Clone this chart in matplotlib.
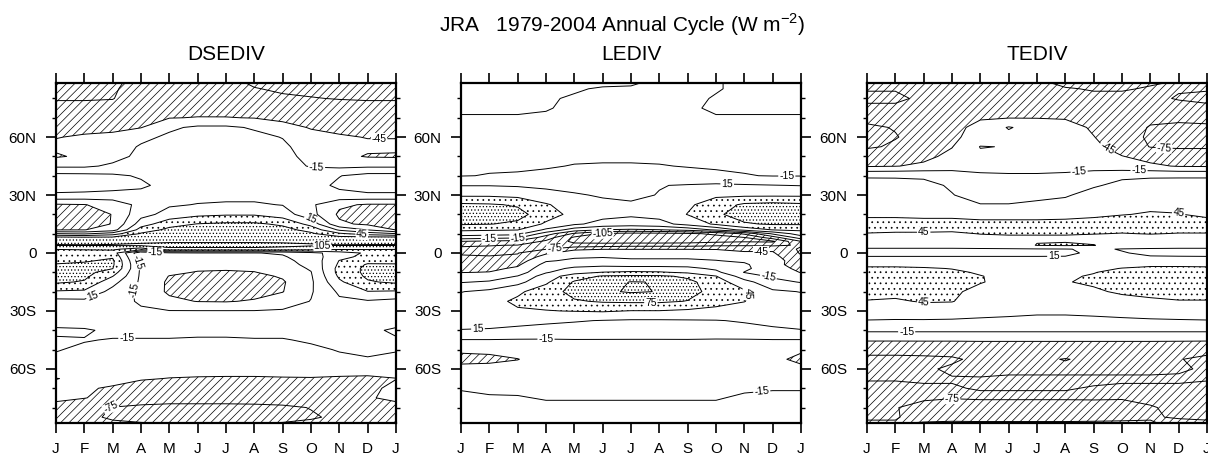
import numpy as np
import matplotlib.pyplot as plt

plt.rcParams['font.family'] = ['Liberation Sans', 'DejaVu Sans']
plt.rcParams['mathtext.fontset'] = 'custom'
plt.rcParams['mathtext.rm'] = 'Liberation Sans'
plt.rcParams['hatch.linewidth'] = 0.5
plt.rcParams['hatch.color'] = 'black'
plt.rcParams['contour.negative_linestyle'] = 'solid'

month_labels = ['J', 'F', 'M', 'A', 'M', 'J', 'J', 'A', 'S', 'O', 'N', 'D', 'J']
lat = [88, 85, 80, 75, 70, 65, 60, 55, 50, 45, 40, 35, 30, 25, 20, 15, 12, 10, 8, 6, 4, 2, 0,
       -2, -4, -6, -8, -10, -12, -15, -20, -25, -30, -35, -40, -45, -50, -55, -60, -65, -70,
       -75, -80, -85, -88]

# monthly values (J..D) for each latitude row, W m-2
dsediv = [
    [-82, -82, -80, -66, -62, -62, -68, -78, -80, -82, -82, -82],
    [-80, -80, -78, -64, -60, -60, -64, -74, -78, -80, -80, -80],
    [-77, -77, -76, -60, -58, -58, -60, -66, -72, -74, -76, -77],
    [-68, -68, -66, -56, -54, -54, -55, -58, -62, -64, -66, -68],
    [-62, -60, -58, -50, -46, -44, -44, -46, -52, -56, -58, -60],
    [-55, -52, -50, -46, -20, -10, -10, -18, -35, -47, -52, -55],
    [-46, -42, -40, -22, -10, -5, -5, -8, -16, -36, -42, -46],
    [-40, -36, -30, -12, -6, -3, -3, -5, -10, -28, -36, -40],
    [-48, -40, -25, -8, -4, -2, -2, -3, -6, -24, -38, -47],
    [-20, -20, -10, -5, -3, -3, -3, -3, -5, -17, -22, -20],
    [25, 24, 20, 12, 2, 0, 0, 0, 0, 2, 14, 25],
    [30, 30, 26, 20, 5, 3, 3, 3, 3, 5, 20, 30],
    [10, 8, 6, 6, 8, 8, 8, 8, 8, 6, 8, 10],
    [-48, -46, -35, -5, 12, 16, 18, 18, 14, -10, -40, -48],
    [-62, -60, -44, 5, 25, 38, 42, 42, 30, -5, -50, -60],
    [-55, -55, -44, 30, 65, 76, 80, 80, 70, 35, -40, -50],
    [-46, -46, -30, 60, 82, 88, 90, 90, 85, 65, 10, -16],
    [16, 10, 30, 78, 90, 92, 94, 94, 90, 80, 50, 30],
    [85, 82, 82, 90, 95, 96, 96, 96, 95, 92, 85, 85],
    [100, 98, 98, 100, 102, 102, 102, 102, 102, 100, 98, 100],
    [106, 106, 107, 110, 112, 112, 112, 112, 110, 108, 106, 106],
    [76, 78, 80, 60, 100, 100, 100, 100, 98, 90, 80, 78],
    [62, 62, 60, -40, -20, -16, -16, -16, -12, 5, 30, 50],
    [60, 64, 72, -35, -22, -20, -22, -22, -18, 0, 35, 55],
    [62, 72, 80, -28, -25, -26, -28, -26, -22, -5, 46, 65],
    [78, 80, 80, -22, -28, -32, -34, -32, -25, -8, 50, 78],
    [88, 85, 76, -20, -32, -40, -42, -40, -30, -12, 55, 82],
    [90, 85, 60, -20, -38, -47, -48, -46, -35, -16, 55, 82],
    [88, 82, 46, -20, -46, -52, -54, -52, -42, -18, 50, 80],
    [80, 72, 25, -20, -50, -58, -60, -56, -48, -20, 40, 72],
    [42, 40, 5, -22, -50, -60, -62, -56, -46, -18, 20, 44],
    [6, 8, -5, -18, -38, -46, -47, -42, -30, -14, 10, 12],
    [0, 2, -5, -12, -14, -14, -14, -14, -12, -8, 5, 5],
    [-2, -2, -2, -5, -6, -6, -6, -6, -5, -4, -2, -2],
    [-20, -18, -10, -10, -10, -10, -10, -10, -10, -8, -6, -8],
    [-12, -14, -16, -16, -16, -17, -17, -16, -16, -13, -12, -10],
    [-14, -18, -20, -20, -21, -22, -22, -21, -20, -18, -14, -12],
    [-18, -20, -22, -24, -25, -26, -26, -26, -25, -22, -18, -16],
    [-22, -24, -26, -28, -32, -36, -38, -38, -34, -30, -28, -28],
    [-46, -38, -36, -42, -46, -47, -47, -47, -47, -47, -50, -52],
    [-36, -42, -48, -60, -64, -66, -66, -64, -62, -58, -56, -54],
    [-38, -44, -54, -62, -64, -64, -64, -62, -60, -56, -52, -48],
    [-56, -66, -76, -80, -82, -82, -82, -82, -80, -74, -66, -58],
    [-60, -70, -78, -84, -86, -88, -88, -86, -84, -78, -70, -62],
    [-58, -66, -72, -74, -76, -76, -76, -76, -74, -70, -66, -60],
]

lediv = [
    [-12, -12, -12, -12, -13, -13, -14, -17, -17, -16, -12, -12],
    [-12, -12, -12, -13, -14, -16, -16, -18, -18, -16, -12, -12],
    [-13, -13, -13, -14, -16, -17, -18, -19, -18, -14, -13, -13],
    [-13, -13, -13, -14, -18, -19, -19, -19, -17, -13, -13, -13],
    [-16, -16, -16, -17, -19, -20, -20, -20, -17, -16, -16, -16],
    [-19, -19, -19, -20, -21, -21, -21, -21, -20, -19, -19, -19],
    [-22, -22, -22, -22, -22, -22, -22, -22, -22, -22, -22, -22],
    [-22, -22, -22, -22, -22, -22, -22, -22, -22, -22, -22, -22],
    [-20, -20, -20, -20, -19, -19, -19, -19, -19, -20, -20, -20],
    [-18, -18, -18, -17, -14, -13, -13, -14, -16, -18, -18, -18],
    [-16, -14, -13, -10, -8, -6, -6, -6, -8, -10, -14, -16],
    [14, 14, 12, 9, 5, 3, 4, 14, 17, 20, 18, 16],
    [40, 40, 36, 25, 18, 12, 10, 16, 28, 40, 40, 40],
    [80, 78, 72, 48, 30, 22, 18, 22, 40, 60, 80, 84],
    [92, 90, 84, 60, 35, 25, 20, 25, 46, 70, 88, 92],
    [78, 76, 70, 40, 20, 5, 0, 5, 25, 50, 72, 78],
    [50, 48, 46, 10, -30, -46, -50, -46, -35, -10, 25, 46],
    [30, 28, 25, -30, -80, -110, -115, -115, -110, -100, -70, -10],
    [0, -5, -10, -60, -110, -120, -125, -125, -120, -114, -106, -60],
    [-46, -50, -55, -80, -112, -118, -120, -120, -118, -112, -108, -110],
    [-72, -74, -76, -80, -95, -90, -85, -85, -85, -80, -78, -80],
    [-80, -80, -80, -76, -50, -46, -46, -46, -46, -46, -50, -50],
    [-78, -78, -76, -50, -30, -25, -25, -25, -25, -35, -42, -42],
    [-72, -74, -72, -32, -18, -16, -18, -18, -18, -22, -30, -35],
    [-65, -68, -60, -18, -10, -10, -12, -12, -12, -14, -20, -30],
    [-55, -60, -50, -5, 5, 8, 5, 5, 5, -2, -10, -38],
    [-50, -52, -40, 5, 20, 25, 25, 25, 22, 10, -8, -36],
    [-46, -44, -30, 12, 35, 46, 50, 48, 40, 22, -16, -30],
    [-32, -30, -14, 30, 60, 78, 80, 80, 70, 46, 0, -20],
    [-17, -12, 5, 40, 78, 95, 106, 104, 82, 60, 25, -5],
    [14, 22, 40, 60, 85, 100, 108, 104, 85, 65, 50, 20],
    [25, 36, 50, 55, 72, 78, 80, 80, 74, 58, 46, 22],
    [28, 32, 42, 44, 46, 48, 44, 44, 40, 35, 30, 26],
    [25, 24, 22, 20, 17, 14, 12, 12, 13, 14, 17, 20],
    [14, 13, 10, 6, 4, 2, 0, 0, 2, 4, 8, 12],
    [-16, -16, -17, -17, -16, -16, -16, -16, -16, -17, -17, -16],
    [-42, -40, -30, -22, -22, -22, -22, -22, -22, -22, -25, -35],
    [-50, -50, -46, -30, -24, -24, -24, -24, -24, -24, -28, -40],
    [-40, -38, -32, -26, -24, -24, -24, -24, -24, -24, -26, -34],
    [-22, -22, -22, -22, -22, -22, -22, -22, -22, -22, -22, -22],
    [-16, -17, -18, -19, -19, -19, -19, -19, -19, -19, -17, -16],
    [-12, -14, -14, -16, -16, -16, -16, -16, -16, -16, -13, -12],
    [-10, -11, -11, -12, -12, -12, -12, -12, -12, -12, -11, -10],
    [-9, -10, -10, -10, -10, -10, -10, -10, -10, -10, -10, -9],
    [-8, -9, -9, -9, -9, -9, -9, -9, -9, -9, -9, -8],
]

tediv = [
    [-72, -72, -72, -70, -68, -68, -72, -78, -80, -80, -76, -74],
    [-74, -74, -72, -70, -68, -68, -70, -74, -76, -76, -74, -74],
    [-78, -78, -72, -68, -64, -64, -66, -70, -72, -72, -72, -76],
    [-72, -72, -66, -62, -58, -58, -60, -64, -68, -68, -68, -70],
    [-70, -68, -64, -58, -48, -46, -46, -48, -60, -70, -72, -72],
    [-78, -74, -66, -55, -35, -13, -26, -30, -50, -68, -76, -78],
    [-80, -76, -68, -52, -30, -22, -22, -26, -44, -66, -78, -80],
    [-78, -72, -62, -46, -14, -16, -24, -26, -38, -58, -76, -78],
    [-62, -58, -52, -38, -20, -18, -24, -25, -30, -44, -55, -62],
    [-48, -46, -40, -30, -26, -25, -25, -25, -27, -35, -40, -47],
    [12, 12, 11, 2, -10, -12, -12, -10, -2, 10, 12, 12],
    [25, 24, 22, 12, -2, -5, -5, -2, 12, 22, 24, 25],
    [32, 30, 28, 16, 5, 5, 8, 12, 25, 30, 32, 32],
    [36, 35, 34, 28, 16, 16, 20, 24, 30, 36, 40, 38],
    [40, 40, 38, 38, 36, 36, 36, 38, 40, 44, 47, 46],
    [55, 55, 55, 55, 52, 52, 52, 52, 55, 58, 60, 58],
    [50, 50, 50, 50, 50, 50, 50, 50, 50, 50, 52, 50],
    [44, 42, 42, 40, 46, 48, 48, 48, 46, 44, 46, 44],
    [38, 36, 36, 36, 38, 40, 40, 40, 38, 38, 38, 38],
    [30, 30, 30, 30, 32, 40, 44, 44, 40, 30, 30, 30],
    [22, 22, 22, 22, 25, 30, 46, 48, 46, 30, 25, 22],
    [13, 13, 13, 13, 13, 13, 13, 14, 18, 14, 13, 13],
    [8, 8, 8, 8, 8, 8, 8, 10, 20, 16, 12, 10],
    [16, 16, 16, 16, 16, 16, 16, 16, 20, 18, 16, 16],
    [25, 25, 24, 22, 20, 20, 20, 20, 22, 25, 26, 26],
    [38, 38, 36, 32, 28, 26, 26, 26, 30, 36, 40, 40],
    [50, 50, 48, 44, 36, 32, 32, 32, 38, 46, 50, 50],
    [55, 55, 53, 50, 42, 34, 34, 38, 44, 52, 55, 55],
    [56, 56, 55, 52, 46, 38, 38, 42, 47, 54, 56, 56],
    [55, 55, 54, 52, 46, 40, 40, 44, 48, 54, 56, 56],
    [52, 52, 50, 48, 40, 36, 36, 38, 42, 48, 50, 52],
    [44, 42, 47, 46, 34, 30, 28, 28, 30, 38, 42, 44],
    [30, 30, 32, 32, 25, 22, 20, 20, 22, 26, 28, 30],
    [14, 13, 13, 12, 11, 10, 8, 8, 9, 10, 12, 13],
    [-10, -10, -10, -10, -10, -10, -10, -10, -10, -10, -10, -10],
    [-42, -42, -42, -42, -42, -42, -42, -42, -42, -42, -42, -42],
    [-68, -68, -66, -66, -62, -62, -62, -62, -62, -62, -62, -64],
    [-80, -80, -80, -78, -70, -68, -71, -76, -70, -68, -68, -74],
    [-78, -78, -78, -72, -70, -70, -70, -70, -70, -70, -70, -72],
    [-76, -76, -76, -76, -76, -78, -78, -78, -78, -78, -78, -78],
    [-72, -72, -74, -74, -76, -76, -76, -76, -74, -72, -72, -72],
    [-68, -70, -72, -74, -72, -72, -72, -72, -72, -74, -72, -70],
    [-70, -74, -82, -86, -88, -88, -88, -88, -86, -80, -76, -72],
    [-72, -74, -80, -82, -84, -84, -84, -84, -82, -80, -76, -74],
    [-78, -76, -74, -72, -72, -72, -72, -72, -72, -72, -74, -78],
]

levels = [-165, -135, -105, -75, -45, -15, 15, 45, 75, 105, 135, 165]

# where the contour labels sit (month, latitude)
labels_dse = [(11.4, 59), (9.2, 46), (9.0, 18), (10.8, 9.5), (9.4, 3.8), (3.5, -1),
              (3.0, -4), (2.9, -20), (1.3, -22.5), (2.5, -44), (1.9, -77)]
labels_le = [(11.5, 39.6), (9.4, 38.4), (1.0, 7.4), (2.0, 7.2), (5.0, 9.5), (3.3, 1.7),
             (10.6, 1.7), (10.9, -9.6), (6.7, -24.6), (10.4, -22.6), (0.6, -39.6),
             (3.0, -43), (10.6, -69)]
labels_te = [(10.5, 58.6), (8.4, 52), (9.6, 42), (7.5, 39), (11.0, 20.5), (2.0, 9.5),
             (6.6, -0.9), (2.0, -28.5), (1.4, -38), (3.0, -74)]


def draw_panel(ax, field, title, label_pos):
    z = np.array(field, dtype=float)
    z = np.hstack([z, z[:, :1]])          # close the annual cycle (Jan again)
    x = np.arange(13)
    y = np.array(lat, dtype=float)

    ax.contourf(x, y, z, levels=[-999, -45, 45, 75, 999], colors='none',
                hatches=['////', None, '...', '.....'])
    cs = ax.contour(x, y, z, levels=levels, colors='k', linewidths=0.7,
                    linestyles='solid')
    txt = ax.clabel(cs, fmt='%d', fontsize=7.5, manual=label_pos, inline=True,
                    inline_spacing=1)
    for t in txt:
        t.set_bbox(dict(fc='white', ec='none', pad=0.3))

    ax.set_xlim(0, 12)
    ax.set_ylim(-88, 88)
    ax.set_xticks(range(13))
    ax.set_xticklabels(month_labels)
    ax.set_yticks([-60, -30, 0, 30, 60])
    ax.set_yticklabels(['60S', '30S', '0', '30N', '60N'])
    ax.set_yticks(np.arange(-80, 81, 10), minor=True)
    ax.tick_params(which='major', direction='out', length=7, width=1.2,
                   top=True, right=True, labelsize=11, pad=7)
    ax.tick_params(which='minor', direction='out', length=3, width=1,
                   left=True, right=True)
    for s in ax.spines.values():
        s.set_linewidth(1.6)
    fig.text(ax.get_position().x0 + ax.get_position().width / 2, 1 - 59.5 / 458,
             title, ha='center', va='baseline', fontsize=15)


fig = plt.figure(figsize=(12.08, 4.58), dpi=100)
w = 340 / 1208
h = 340 / 458
b = 35 / 458
ax1 = fig.add_axes([56 / 1208, b, w, h])
ax2 = fig.add_axes([461 / 1208, b, w, h])
ax3 = fig.add_axes([867 / 1208, b, w, h])

draw_panel(ax1, dsediv, 'DSEDIV', labels_dse)
draw_panel(ax2, lediv, 'LEDIV', labels_le)
draw_panel(ax3, tediv, 'TEDIV', labels_te)

fig.text(622 / 1208, 1 - 31.5 / 458, 'JRA   1979-2004 Annual Cycle (W m$^{-2}$)',
         ha='center', va='baseline', fontsize=15)

fig.savefig('out.png', dpi=100)
